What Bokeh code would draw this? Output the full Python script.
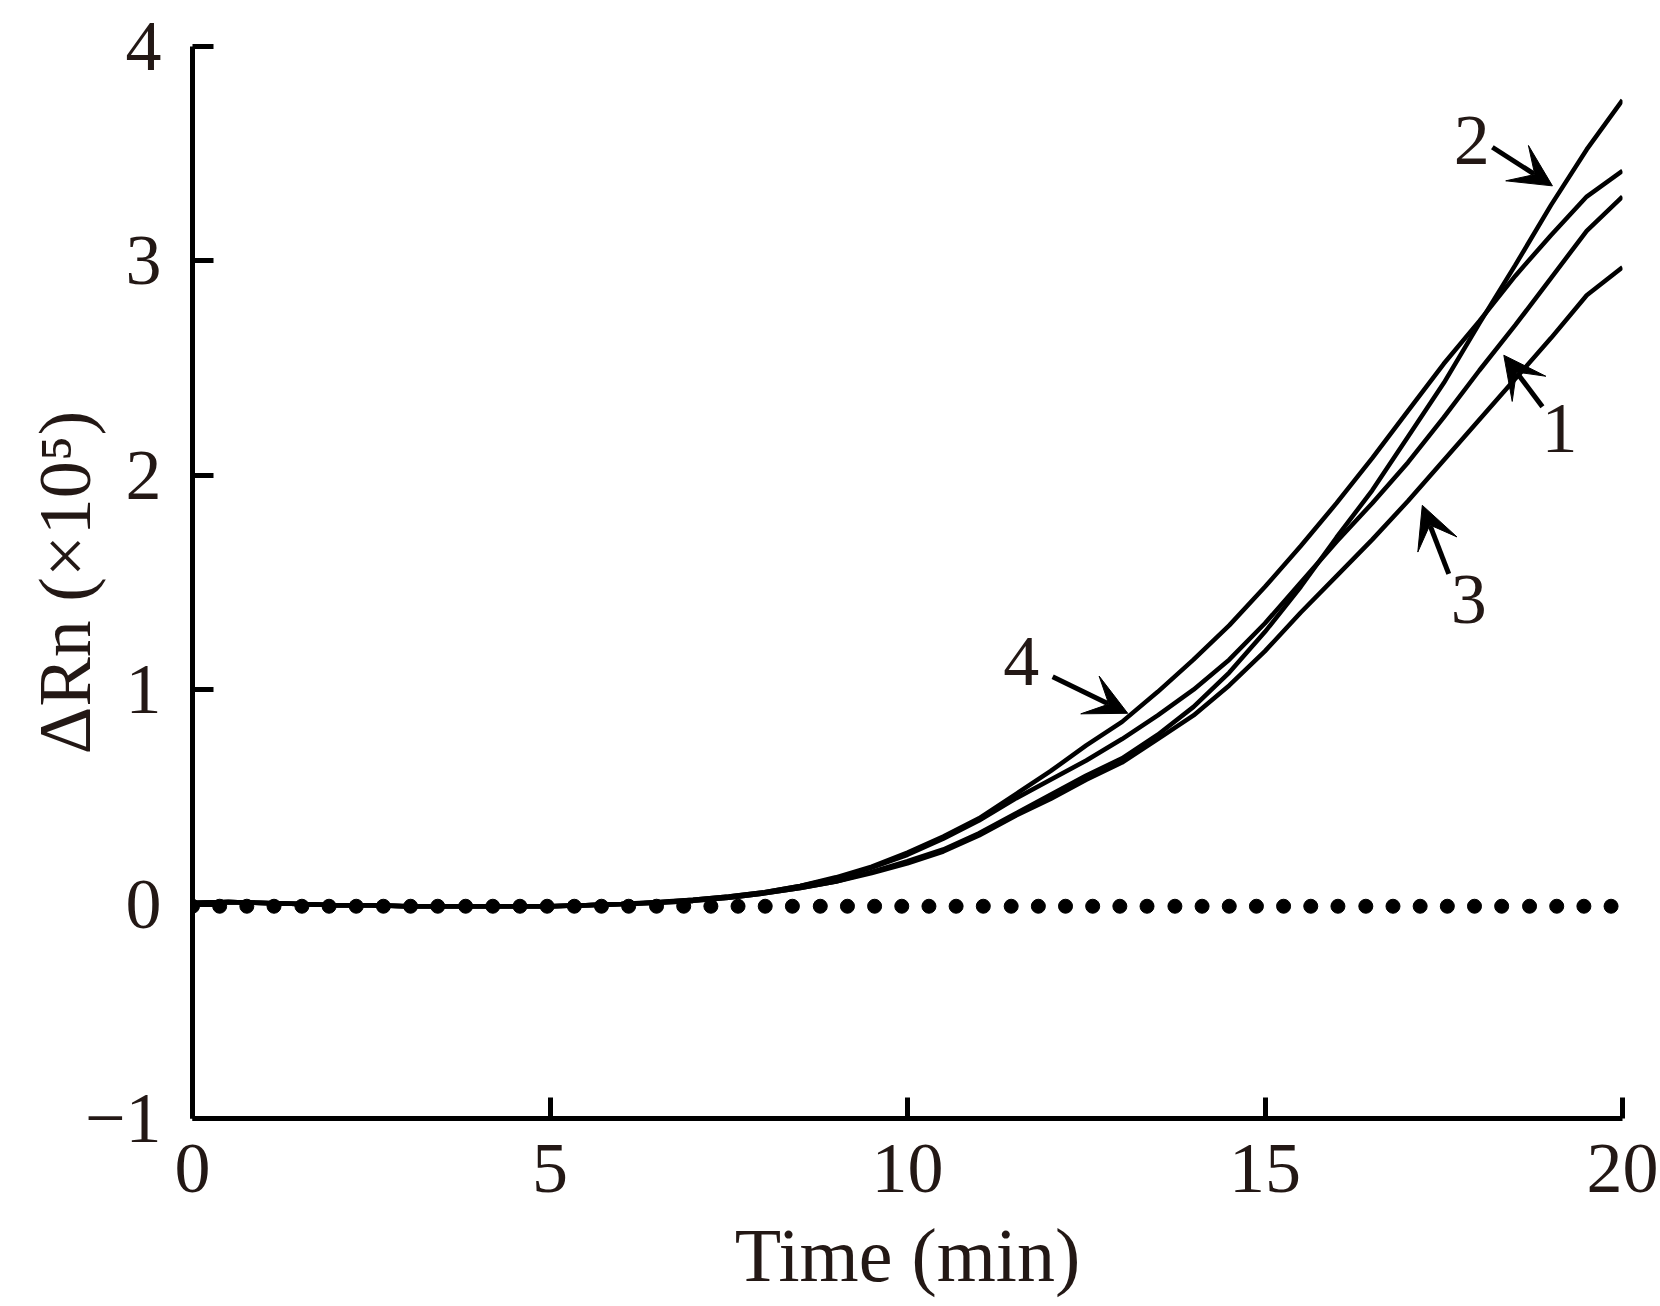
from bokeh.plotting import figure
from bokeh.models import Range1d, FixedTicker, Arrow, VeeHead, ColumnDataSource
from bokeh.core.properties import value
from bokeh.embed import file_html
from bokeh.resources import INLINE

# ---- data ----
curve_t = [0, 0.5, 1, 1.5, 2, 2.5, 3, 3.5, 4, 4.5, 5, 5.5, 6, 6.5, 7, 7.5, 8, 8.5, 9, 9.5,
           10, 10.5, 11, 11.5, 12, 12.5, 13, 13.5, 14, 14.5, 15, 15.5, 16, 16.5, 17, 17.5,
           18, 18.5, 19, 19.5, 20]

curve1 = [0.005, 0.01, 0.005, 0.0, -0.005, -0.005, -0.01, -0.01, -0.01, -0.01, -0.01, -0.005, 0.0, 0.008,
          0.02, 0.035, 0.055, 0.085, 0.12, 0.17, 0.23, 0.305, 0.39, 0.49, 0.58, 0.67, 0.77, 0.88,
          1.00, 1.14, 1.31, 1.50, 1.69, 1.87, 2.06, 2.27, 2.49, 2.70, 2.92, 3.14, 3.30]
curve2 = [0.005, 0.01, 0.005, 0.0, -0.005, -0.005, -0.01, -0.01, -0.01, -0.01, -0.01, -0.005, 0.0, 0.006,
          0.015, 0.03, 0.05, 0.075, 0.105, 0.15, 0.20, 0.255, 0.33, 0.42, 0.51, 0.60, 0.68, 0.79,
          0.92, 1.08, 1.27, 1.48, 1.71, 1.93, 2.18, 2.43, 2.71, 2.98, 3.26, 3.52, 3.75]
curve3 = [0.005, 0.01, 0.005, 0.0, -0.005, -0.005, -0.01, -0.01, -0.01, -0.01, -0.01, -0.005, 0.0, 0.006,
          0.015, 0.03, 0.05, 0.075, 0.105, 0.145, 0.19, 0.245, 0.32, 0.41, 0.49, 0.58, 0.66, 0.77,
          0.88, 1.02, 1.18, 1.36, 1.53, 1.70, 1.88, 2.07, 2.26, 2.45, 2.64, 2.84, 2.97]
curve4 = [0.005, 0.01, 0.005, 0.0, -0.005, -0.005, -0.01, -0.01, -0.01, -0.01, -0.01, -0.005, 0.0, 0.01,
          0.02, 0.035, 0.055, 0.085, 0.125, 0.175, 0.24, 0.315, 0.40, 0.51, 0.62, 0.74, 0.85, 0.99,
          1.14, 1.30, 1.48, 1.67, 1.87, 2.08, 2.30, 2.52, 2.72, 2.93, 3.12, 3.30, 3.42]

dot_t = [0, 0.38, 0.76, 1.14, 1.53, 1.91, 2.29, 2.67, 3.05, 3.43, 3.82, 4.20, 4.58, 4.96,
         5.34, 5.72, 6.10, 6.49, 6.87, 7.25, 7.63, 8.01, 8.39, 8.78, 9.16, 9.54, 9.92, 10.30,
         10.68, 11.06, 11.45, 11.83, 12.21, 12.59, 12.97, 13.35, 13.74, 14.12, 14.50, 14.88,
         15.26, 15.64, 16.02, 16.41, 16.79, 17.17, 17.55, 17.93, 18.31, 18.70, 19.08, 19.46, 19.84]
dot_v = [-0.01, -0.01, -0.01, -0.01, -0.01, -0.01, -0.01, -0.01, -0.01, -0.01, -0.01, -0.01,
         -0.01, -0.01, -0.01, -0.01, -0.01, -0.01, -0.01, -0.01, -0.01, -0.01, -0.01, -0.01,
         -0.01, -0.01, -0.01, -0.01, -0.01, -0.01, -0.01, -0.01, -0.01, -0.01, -0.01, -0.01,
         -0.01, -0.01, -0.01, -0.01, -0.01, -0.01, -0.01, -0.01, -0.01, -0.01, -0.01, -0.01,
         -0.01, -0.01, -0.01, -0.01, -0.01]

x_ticks = [0, 5, 10, 15, 20]
y_ticks = [-1, 0, 1, 2, 3, 4]
y_tick_labels = ["\u22121", "0", "1", "2", "3", "4"]

curve_names = ["1", "2", "3", "4"]

# annotation placement (data coordinates)
name_x = [19.12, 17.89, 17.85, 11.59]
name_y = [2.22, 3.56, 1.42, 1.13]
arrow_start_x = [18.88, 18.18, 17.57, 12.03]
arrow_start_y = [2.32, 3.53, 1.54, 1.06]
arrow_end_x = [18.34, 19.02, 17.20, 13.08]
arrow_end_y = [2.56, 3.35, 1.86, 0.89]

FONT = "Liberation Serif"
TXT = "#231815"

p = figure(width=1660, height=1306, x_range=Range1d(0, 20), y_range=Range1d(-1, 4),
           output_backend="svg", toolbar_location=None,
           min_border_left=192, min_border_right=38, min_border_top=46, min_border_bottom=188)
p.outline_line_color = None
p.xgrid.visible = False
p.ygrid.visible = False
p.background_fill_color = "white"
p.border_fill_color = "white"

for ax in (p.xaxis[0], p.yaxis[0]):
    ax.axis_line_width = 5
    ax.axis_line_color = "black"
    ax.major_tick_line_width = 5
    ax.major_tick_line_color = "black"
    ax.major_tick_in = 21
    ax.major_tick_out = 0
    ax.minor_tick_line_color = None
    ax.major_label_text_font = FONT
    ax.major_label_text_font_size = "72px"
    ax.major_label_text_color = TXT
    ax.axis_label_text_font = FONT
    ax.axis_label_text_font_style = "normal"
    ax.axis_label_text_color = TXT

p.xaxis[0].axis_label_text_font_size = "76px"
p.yaxis[0].axis_label_text_font_size = "74px"
p.xaxis[0].ticker = FixedTicker(ticks=x_ticks)
p.yaxis[0].ticker = FixedTicker(ticks=y_ticks)
p.yaxis[0].major_label_overrides = {t: s for t, s in zip(y_ticks, y_tick_labels)}
p.xaxis[0].major_label_standoff = 26
p.yaxis[0].major_label_standoff = 31
p.xaxis[0].axis_label = "Time (min)"
p.yaxis[0].axis_label = "\u0394Rn (\u00d710\u2075)"
p.xaxis[0].axis_label_standoff = 18
p.yaxis[0].axis_label_standoff = -24

for c in (curve1, curve2, curve3, curve4):
    p.line(curve_t, c, line_color="black", line_width=4.5)

p.scatter(dot_t, dot_v, size=14, color="black")

for xs, ys, xe, ye in zip(arrow_start_x, arrow_start_y, arrow_end_x, arrow_end_y):
    p.add_layout(Arrow(end=VeeHead(size=42, fill_color="black", line_color="black", line_width=1),
                       x_start=xs, y_start=ys, x_end=xe, y_end=ye,
                       line_color="black", line_width=5))

src = ColumnDataSource(dict(x=name_x, y=name_y, t=curve_names))
p.text(x="x", y="y", text="t", source=src, text_font=value(FONT), text_font_size="72px",
       text_color=TXT, text_align="center", text_baseline="middle")

open("out.html", "w").write(file_html(p, INLINE))
